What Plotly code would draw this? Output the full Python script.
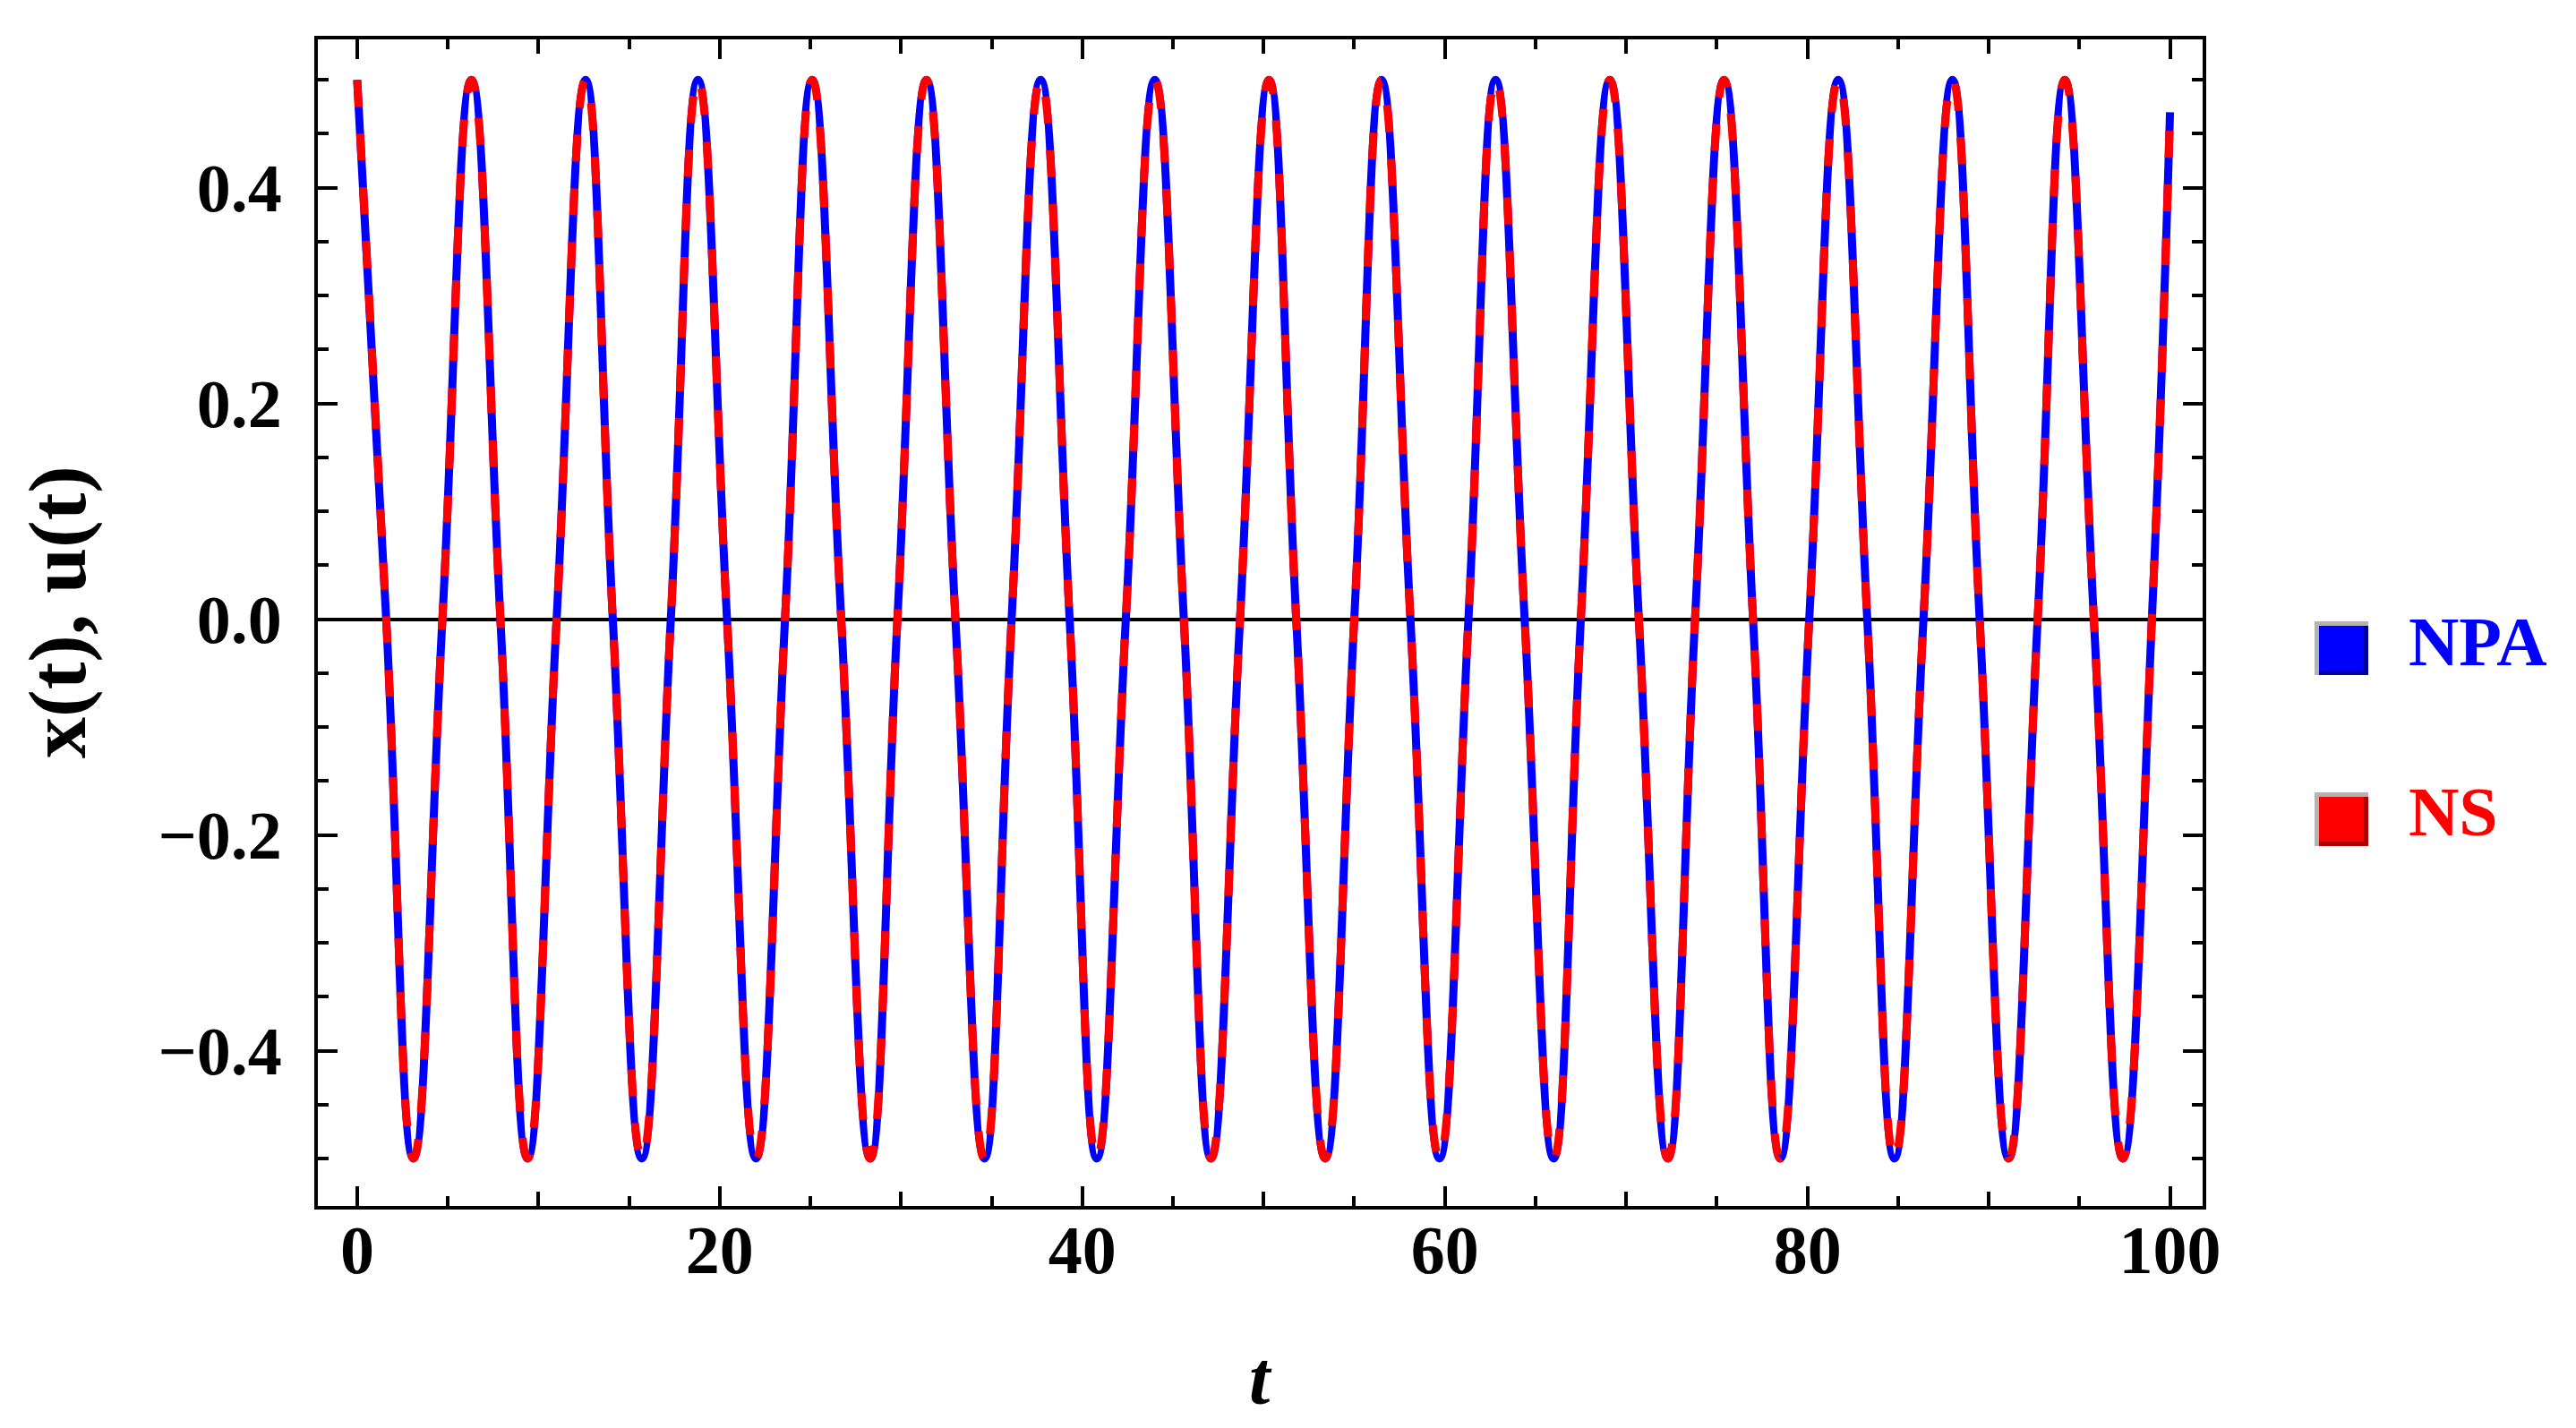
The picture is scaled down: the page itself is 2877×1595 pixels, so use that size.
import plotly.graph_objects as go

# Значення
peak_t = [0.0, 6.3, 12.6, 18.8, 25.1, 31.4, 37.7, 44.0, 50.3, 56.5, 62.8, 69.1, 75.4, 81.7, 88.0, 94.2]
trough_t = [3.1, 9.4, 15.7, 22.0, 28.3, 34.6, 40.8, 47.1, 53.4, 59.7, 66.0, 72.3, 78.5, 84.8, 91.1, 97.4]
cross_t = [1.6, 4.7, 7.9, 11.0, 14.1, 17.3, 20.4, 23.6, 26.7, 29.8, 33.0, 36.1, 39.3, 42.4, 45.6, 48.7,
           51.8, 55.0, 58.1, 61.3, 64.4, 67.5, 70.7, 73.8, 77.0, 80.1, 83.3, 86.4, 89.5, 92.7, 95.8, 99.0]
peak_x = 0.5
trough_x = -0.5
end_t, end_x = 100.0, 0.47

x_ticks = [0, 20, 40, 60, 80, 100]
y_ticks = [-0.4, -0.2, 0.0, 0.2, 0.4]
series_names = ["NPA", "NS"]
series_colors = ["#0000ff", "#ff0000"]

pts = [(t, peak_x) for t in peak_t] + [(t, trough_x) for t in trough_t] + [(t, 0.0) for t in cross_t]
pts.append((end_t, end_x))
pts.sort()
t_vals = [p[0] for p in pts]
x_vals = [p[1] for p in pts]

W, H = 2877, 1595
L, R, T, B = 347, 2452, 36, 1339


def px(x):
    return (x - L) / (R - L)


def py(y):
    return (B - y) / (B - T)


fig = go.Figure()
fig.add_trace(go.Scatter(x=t_vals, y=x_vals, mode="lines", name=series_names[0],
                         line=dict(color=series_colors[0], width=9, shape="spline", smoothing=1.3)))
fig.add_trace(go.Scatter(x=t_vals, y=x_vals, mode="lines", name=series_names[1], xaxis="x2",
                         line=dict(color=series_colors[1], width=9, shape="spline", smoothing=1.3,
                                   dash="30px,30px")))

font = dict(family="Liberation Serif", size=76, color="black", weight="bold")
xr = [-2.17, 101.8]
fig.update_layout(
    width=W, height=H, showlegend=False,
    paper_bgcolor="white", plot_bgcolor="white",
    margin=dict(l=L, r=W - R, t=T, b=H - B),
    xaxis=dict(range=xr, tickvals=x_ticks, ticks="inside", ticklen=22, tickwidth=4, tickcolor="black",
               showline=True, linewidth=4, linecolor="black", mirror="ticks", showgrid=False,
               zeroline=False, tickfont=font, ticklabelstandoff=-20,
               minor=dict(ticks="inside", dtick=5, tick0=0, ticklen=11, tickwidth=4, tickcolor="black",
                          showgrid=False)),
    xaxis2=dict(range=xr, overlaying="x", side="bottom", tickvals=[10, 30, 50, 70, 90], ticks="inside",
                ticklen=16, tickwidth=4, tickcolor="black", showticklabels=False, mirror="ticks",
                showline=False, showgrid=False, zeroline=False),
    yaxis=dict(range=[-0.544, 0.5375], tickvals=y_ticks, tickformat=".1f", ticks="inside", ticklen=22,
               tickwidth=4, tickcolor="black", showline=True, linewidth=4, linecolor="black",
               mirror="ticks", showgrid=False, zeroline=True, zerolinecolor="black", zerolinewidth=4,
               tickfont=font, ticklabelstandoff=21,
               minor=dict(ticks="inside", dtick=0.05, tick0=0, ticklen=12, tickwidth=4,
                          tickcolor="black", showgrid=False)),
)

# Підписи осей
fig.add_annotation(text="x(t), u(t)", xref="paper", yref="paper", x=px(56), y=py(676), textangle=-90,
                   xanchor="center", yanchor="middle", showarrow=False,
                   font=dict(family="Liberation Serif", size=92, color="black", weight="bold"))
fig.add_annotation(text="<i>t</i>", xref="paper", yref="paper", x=px(1400), y=py(1531),
                   xanchor="center", yanchor="middle", showarrow=False,
                   font=dict(family="Liberation Serif", size=84, color="black", weight="bold"))

# Легенда
dark = ["#00009f", "#b00000"]
for i, (name, col) in enumerate(zip(series_names, series_colors)):
    y0 = 686 + i * 191
    x0 = 2577
    fig.add_shape(type="rect", xref="paper", yref="paper", x0=px(x0), x1=px(x0 + 60), y0=py(y0), y1=py(y0 + 60),
                  fillcolor="#b3b3b3", line=dict(width=0))
    fig.add_shape(type="rect", xref="paper", yref="paper", x0=px(x0 + 5), x1=px(x0 + 60), y0=py(y0 + 5),
                  y1=py(y0 + 60), fillcolor=dark[i], line=dict(width=0))
    fig.add_shape(type="rect", xref="paper", yref="paper", x0=px(x0 + 5), x1=px(x0 + 55), y0=py(y0 + 5),
                  y1=py(y0 + 55), fillcolor=col, line=dict(width=0))
    fig.add_annotation(text=name, xref="paper", yref="paper", x=px(2680), y=py(y0 + 22), xanchor="left",
                       yanchor="middle", showarrow=False,
                       font=dict(family="Liberation Serif", size=78, color=col, weight="bold"))

fig.write_html("out.html")
